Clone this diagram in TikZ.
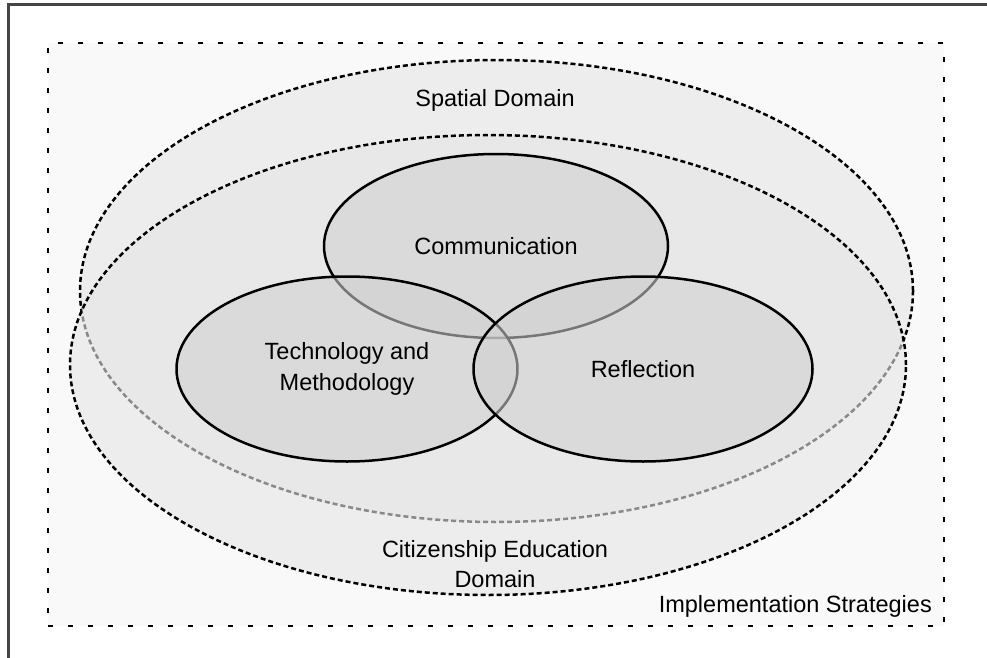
\documentclass[tikz,border=0pt]{standalone}
\usepackage{fontspec}
\setmainfont{Liberation Sans}
\usetikzlibrary{shapes.geometric}
\definecolor{framegray}{HTML}{454545}
\definecolor{stratfill}{HTML}{F9F9F9}
\tikzset{
  domainring/.style={ellipse,draw=black,line width=2.5pt,dash pattern=on 5pt off 3pt,
    fill=black!10,fill opacity=0.6,inner sep=0pt},
  field/.style={ellipse,draw=black,line width=2.5pt,fill=black!18,fill opacity=0.57,
    text opacity=1,align=center,inner sep=0pt},
  lbl/.style={align=center,inner sep=0pt}
}
\begin{document}
\begin{tikzpicture}[x=1pt,y=-1pt,font=\fontsize{23.5}{30.5}\selectfont]
    \useasboundingbox (0,0) rectangle (987,658);
    \draw[framegray,line width=3pt] (8.5,662) -- (8.5,5) -- (991,5);

    \node[draw=black,line width=2.5pt,dash pattern=on 5pt off 15pt,fill=stratfill,
      minimum width=896pt,minimum height=583pt,inner sep=0pt] (strat) at (496,334.5) {};

    \node[domainring,minimum width=833pt,minimum height=462pt] (spatial) at (496.5,291) {};
    \node[domainring,minimum width=836pt,minimum height=460pt] (citizen) at (488,365) {};

    \node[field,minimum width=344pt,minimum height=184pt] (comm) at (496,246) {Communication};
    \node[field,minimum width=341pt,minimum height=185pt] (tech) at (347,369) {Technology and\\Methodology};
    \node[field,minimum width=339pt,minimum height=185pt] (refl) at (643,369) {Reflection};

    \node[lbl] (spatiallbl) at (495,100) {Spatial Domain};
    \node[lbl] (citizenlbl) at (495,564) {Citizenship Education\\Domain};
    \node[lbl,anchor=base east] (stratlbl) at (932,612) {Implementation Strategies};
  \end{tikzpicture}
\end{document}
